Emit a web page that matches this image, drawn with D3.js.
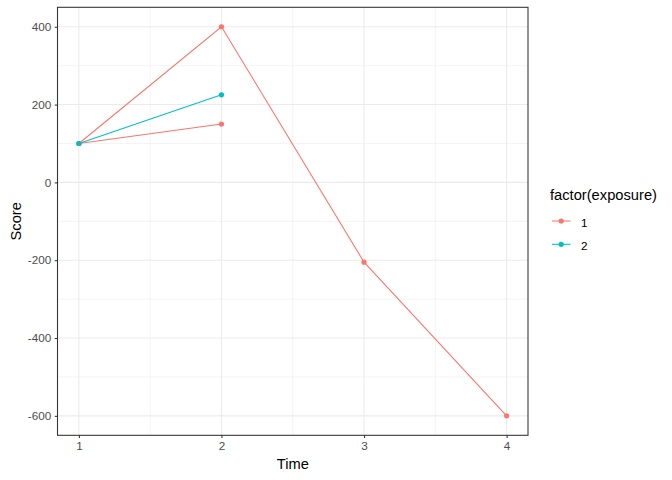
<!DOCTYPE html>
<html>
<head>
<meta charset="utf-8">
<script src="https://cdn.jsdelivr.net/npm/d3@7"></script>
<style>
  body { margin: 0; background: #fff; }
  svg { display: block; font-family: "Liberation Sans", Arial, sans-serif; }
</style>
</head>
<body>
<div id="viz"></div>
<script>
const width = 672;
const height = 480;
const margin = {top: 7.3, right: 144, bottom: 45, left: 57.5};

// Data: each line is one subject
const times = [1, 2, 3, 4];
const lineAScores = [100, 400, -205, -600]; // exposure 1
const lineBScores = [100, 150];             // exposure 1
const lineCScores = [100, 225];             // exposure 2
const exposures = ['1', '2'];
const xTicks = [1, 2, 3, 4];
const yTicks = [-600, -400, -200, 0, 200, 400];

const series = [
  {exposure: '1', values: lineAScores},
  {exposure: '1', values: lineBScores},
  {exposure: '2', values: lineCScores}
];

const colors = d3.scaleOrdinal().domain(exposures).range(['#F8766D', '#00BFC4']);

const svg = d3.select('#viz')
  .append('svg')
    .attr('width', width)
    .attr('height', height);

const panelRight = 528;
const panelBottom = 435.3;

// ggplot style 5% expansion
const xExt = d3.extent(times);
const xPad = (xExt[1] - xExt[0]) * 0.05;
const xScale = d3.scaleLinear()
  .domain([xExt[0] - xPad, xExt[1] + xPad])
  .range([margin.left, panelRight]);

const allScores = series.flatMap(s => s.values);
const yExt = d3.extent(allScores);
const yPad = (yExt[1] - yExt[0]) * 0.05;
const yScale = d3.scaleLinear()
  .domain([yExt[0] - yPad, yExt[1] + yPad])
  .range([panelBottom, margin.top]);

const xMinor = [1.5, 2.5, 3.5];
const yMinor = [-500, -300, -100, 100, 300];

// grid
const grid = svg.append('g');
grid.selectAll('.xminor').data(xMinor).join('line')
  .attr('x1', d => xScale(d)).attr('x2', d => xScale(d))
  .attr('y1', margin.top).attr('y2', panelBottom)
  .attr('stroke', '#EBEBEB').attr('stroke-width', 0.55);
grid.selectAll('.yminor').data(yMinor).join('line')
  .attr('x1', margin.left).attr('x2', panelRight)
  .attr('y1', d => yScale(d)).attr('y2', d => yScale(d))
  .attr('stroke', '#EBEBEB').attr('stroke-width', 0.55);
grid.append('g').selectAll('line').data(xTicks).join('line')
  .attr('x1', d => xScale(d)).attr('x2', d => xScale(d))
  .attr('y1', margin.top).attr('y2', panelBottom)
  .attr('stroke', '#EBEBEB').attr('stroke-width', 1.07);
grid.append('g').selectAll('line').data(yTicks).join('line')
  .attr('x1', margin.left).attr('x2', panelRight)
  .attr('y1', d => yScale(d)).attr('y2', d => yScale(d))
  .attr('stroke', '#EBEBEB').attr('stroke-width', 1.07);

// lines and points
const line = d3.line()
  .x((d, i) => xScale(times[i]))
  .y(d => yScale(d));

const ordered = series.slice().sort((a, b) => d3.ascending(a.exposure, b.exposure));
svg.append('g').selectAll('path').data(ordered).join('path')
  .attr('d', d => line(d.values))
  .attr('fill', 'none')
  .attr('stroke', d => colors(d.exposure))
  .attr('stroke-width', 1.07);

ordered.forEach(s => {
  svg.append('g').selectAll('circle').data(s.values).join('circle')
    .attr('cx', (d, i) => xScale(times[i]))
    .attr('cy', d => yScale(d))
    .attr('r', 2.6)
    .attr('fill', colors(s.exposure));
});

// panel border
svg.append('rect')
  .attr('x', margin.left).attr('y', margin.top)
  .attr('width', panelRight - margin.left)
  .attr('height', panelBottom - margin.top)
  .attr('fill', 'none')
  .attr('stroke', '#333333')
  .attr('stroke-width', 1.07);

// axes
const xAxis = svg.append('g')
  .attr('transform', `translate(0, ${panelBottom})`)
  .call(d3.axisBottom(xScale).tickValues(xTicks).tickSize(2.74).tickPadding(3.5).tickFormat(d3.format('d')));
const yAxis = svg.append('g')
  .attr('transform', `translate(${margin.left}, 0)`)
  .call(d3.axisLeft(yScale).tickValues(yTicks).tickSize(2.74).tickPadding(3.5).tickFormat(d => d < 0 ? '-' + Math.abs(d) : d));

[xAxis, yAxis].forEach(ax => {
  ax.select('.domain').remove();
  ax.selectAll('.tick line').attr('stroke', '#333333').attr('stroke-width', 1.07);
  ax.selectAll('.tick text')
    .attr('fill', '#4D4D4D')
    .style('font-size', '11.7px')
    .style('font-family', '"Liberation Sans", Arial, sans-serif');
});

// axis titles
svg.append('text')
  .attr('x', (margin.left + panelRight) / 2)
  .attr('y', 469)
  .attr('text-anchor', 'middle')
  .style('font-size', '14.7px')
  .text('Time');

svg.append('text')
  .attr('transform', `translate(20.5, ${(margin.top + panelBottom) / 2}) rotate(-90)`)
  .attr('text-anchor', 'middle')
  .style('font-size', '14.7px')
  .text('Score');

// legend
const legend = svg.append('g');
legend.append('text')
  .attr('x', 550)
  .attr('y', 199.5)
  .style('font-size', '14.7px')
  .text('factor(exposure)');

const keys = legend.selectAll('g.key').data(exposures).join('g')
  .attr('transform', (d, i) => `translate(0, ${221 + i * 23.3})`);
keys.append('line')
  .attr('x1', 552).attr('x2', 570.5)
  .attr('stroke', d => colors(d))
  .attr('stroke-width', 1.07);
keys.append('circle')
  .attr('cx', 561.2).attr('r', 2.6)
  .attr('fill', d => colors(d));
keys.append('text')
  .attr('x', 581)
  .attr('y', 5.5)
  .style('font-size', '11.7px')
  .text(d => d);
</script>
</body>
</html>
